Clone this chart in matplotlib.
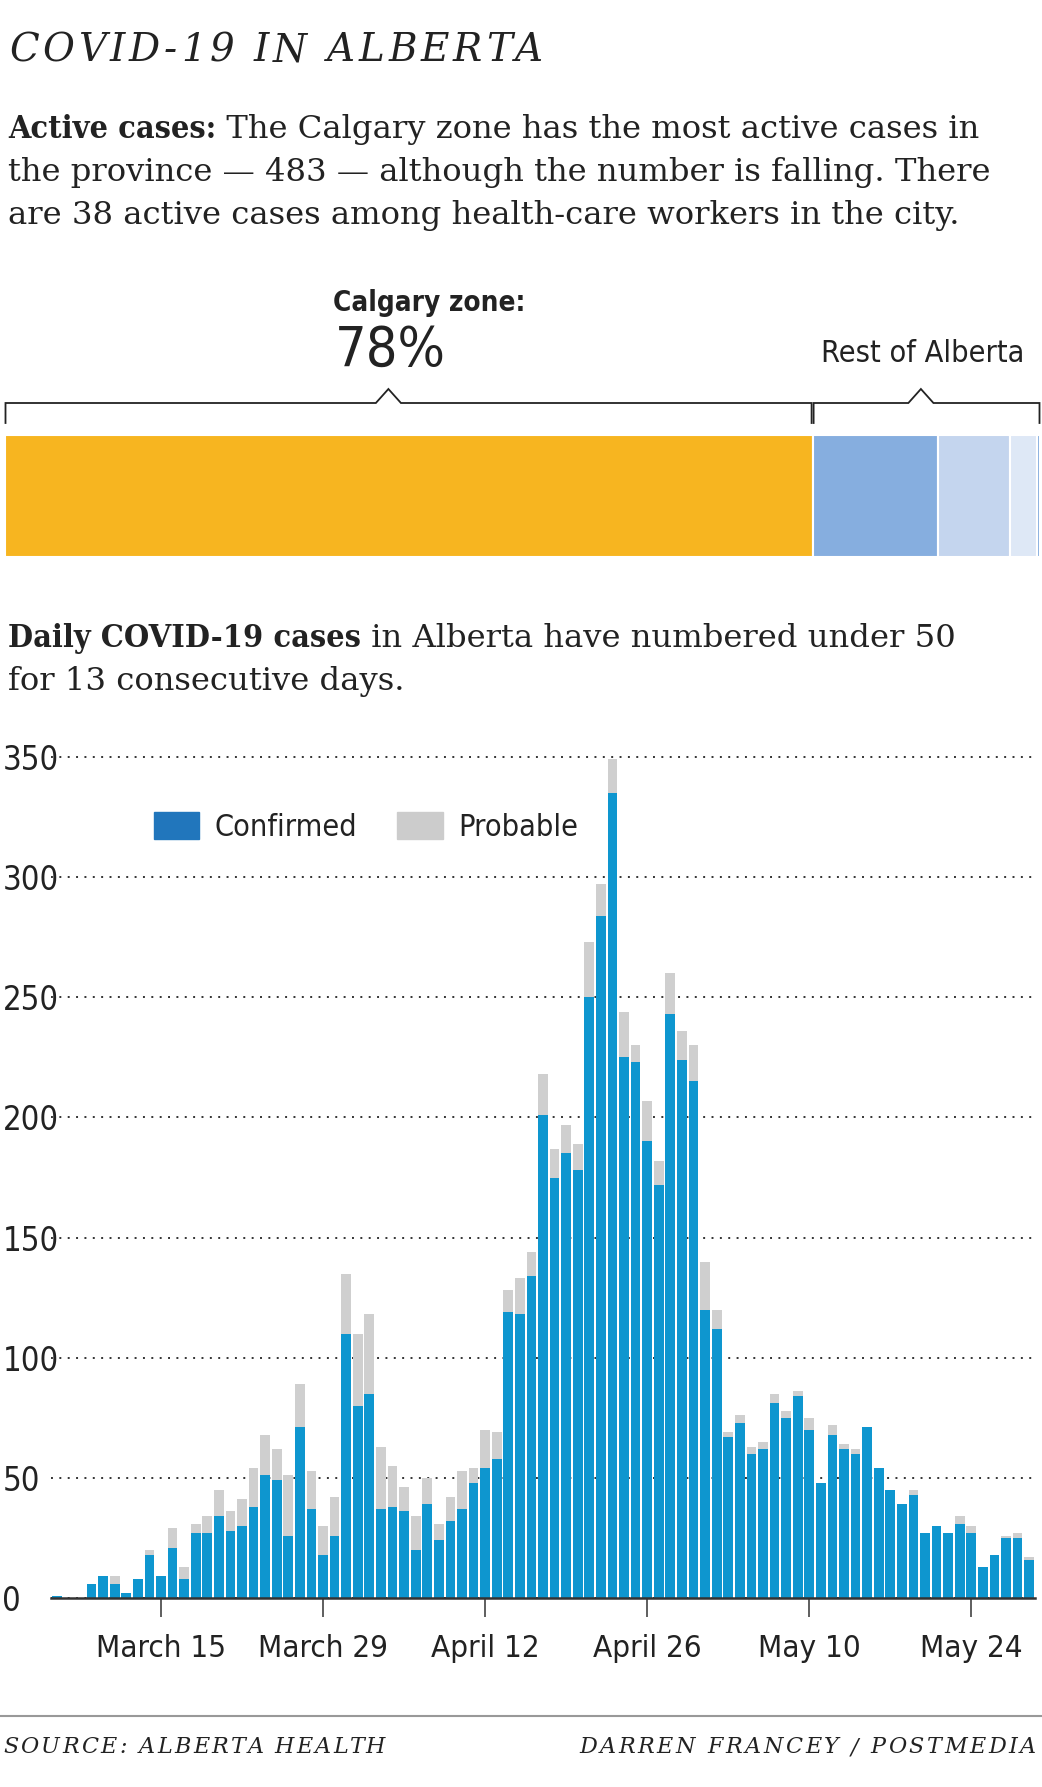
import matplotlib.pyplot as plt
import numpy as np
import pandas as pd
from matplotlib.patches import Patch
from matplotlib.font_manager import FontProperties

# active cases by zone (Calgary first, then the rest of Alberta)
zone_cases = [483, 75, 43, 16, 2]
zone_colors = ['#F7B520', '#86AEDF', '#C4D5EE', '#DEE8F6', '#86AEDF']

# daily cases, March 6 to May 29
dates = pd.date_range('2020-03-06', '2020-05-29')
confirmed = [1, 0, 0, 6, 9, 6, 2, 8, 18, 9,
             21, 8, 27, 27, 34, 28, 30, 38, 51, 49,
             26, 71, 37, 18, 26, 110, 80, 85, 37, 38,
             36, 20, 39, 24, 32, 37, 48, 54, 58, 119,
             118, 134, 201, 175, 185, 178, 250, 284, 335, 225,
             223, 190, 172, 243, 224, 215, 120, 112, 67, 73,
             60, 62, 81, 75, 84, 70, 48, 68, 62, 60,
             71, 54, 45, 39, 43, 27, 30, 27, 31, 27,
             13, 18, 25, 25, 16]
probable = [0, 0, 0, 0, 0, 3, 0, 0, 2, 0,
            8, 5, 4, 7, 11, 8, 11, 16, 17, 13,
            25, 18, 16, 12, 16, 25, 30, 33, 26, 17,
            10, 14, 11, 7, 10, 16, 6, 16, 11, 9,
            15, 10, 17, 12, 12, 11, 23, 13, 14, 19,
            7, 17, 10, 17, 12, 15, 20, 8, 2, 3,
            3, 3, 4, 3, 2, 5, 0, 4, 2, 2,
            0, 0, 0, 0, 2, 0, 0, 0, 3, 3,
            0, 0, 1, 2, 1]
tick_dates = ['2020-03-15', '2020-03-29', '2020-04-12', '2020-04-26', '2020-05-10', '2020-05-24']
tick_labels = ['March 15', 'March 29', 'April 12', 'April 26', 'May 10', 'May 24']
y_ticks = [0, 50, 100, 150, 200, 250, 300, 350]

W, H = 1042, 1787
INK = '#222222'
SANS = ['DejaVu Sans']
SERIF = ['DejaVu Serif']
NARROW = dict(family=SANS, fontstretch='condensed')


def fx(px):
    return px / W


def fy(py):
    return 1 - py / H


fig = plt.figure(figsize=(W / 100, H / 100), dpi=100)
renderer = fig.canvas.get_renderer()


def text_w(s, **kw):
    t = fig.text(0, 0, s, **kw)
    w = t.get_window_extent(renderer).width
    t.remove()
    return w


def tracked(x, y, s, width, align='left', **kw):
    # letter-spaced caps: spread the string over the given pixel width
    track = (width - text_w(s, **kw)) / (len(s) - 1)
    if align == 'right':
        x = x - width
    base = text_w('x', **kw)
    for i, ch in enumerate(s):
        off = text_w(s[:i] + 'x', **kw) - base if i else 0
        fig.text(fx(x + off + i * track), fy(y), ch, va='baseline', color=INK, **kw)


def runin(x, y, bold, rest, size):
    t = fig.text(fx(x), fy(y), bold, family=SERIF, fontweight='bold', fontstretch='condensed',
                 fontsize=size, color=INK, va='baseline')
    w = t.get_window_extent(renderer).width
    fig.text(fx(x + w), fy(y), rest, family=SERIF, fontsize=size, color=INK, va='baseline')


def body(x, y, s, size):
    fig.text(fx(x), fy(y), s, family=SERIF, fontsize=size, color=INK, va='baseline')


# header
tracked(9, 61, 'COVID-19 IN ALBERTA', 532, family=SERIF, style='italic', fontsize=28)
BODY = 23.2
runin(8, 138, 'Active cases:', ' The Calgary zone has the most active cases in', BODY)
body(8, 181, 'the province \u2014 483 \u2014 although the number is falling. There', BODY)
body(8, 224, 'are 38 active cases among health-care workers in the city.', BODY)

# stacked zone bar
axz = fig.add_axes([fx(5), fy(557), fx(1035), 122 / H])
left = 0
for val, col in zip(zone_cases, zone_colors):
    axz.barh(0, val, left=left, height=1, color=col, edgecolor='white', linewidth=1.5)
    left += val
total = sum(zone_cases)
axz.set_xlim(0, total)
axz.set_ylim(-0.5, 0.5)
axz.axis('off')

# brackets above the bar
tr = axz.get_xaxis_transform()
y_line = 1 + 32 / 122
y_end = 1 + 12 / 122
y_peak = 1 + 46 / 122
half = 7.5
for a, b in [(0.3, zone_cases[0] - 0.6), (zone_cases[0] + 0.6, total - 0.3)]:
    mid = a + (b - a) * 0.475
    axz.plot([a, a, mid - half, mid, mid + half, b, b],
             [y_end, y_line, y_line, y_peak, y_line, y_line, y_end],
             transform=tr, color=INK, lw=1.3, clip_on=False, solid_joinstyle='miter')

fig.text(fx(333), fy(311), 'Calgary zone:', fontweight='bold', fontsize=20,
         color=INK, va='baseline', **NARROW)
fig.text(fx(335), fy(366), '78%', fontsize=40, color=INK, va='baseline', **NARROW)
fig.text(fx(1024), fy(362), 'Rest of Alberta', fontsize=22, color=INK,
         va='baseline', ha='right', **NARROW)

# second intro
runin(8, 647, 'Daily COVID-19 cases', ' in Alberta have numbered under 50', BODY)
body(8, 690, 'for 13 consecutive days.', BODY)

# daily cases chart
ax = fig.add_axes([fx(51), fy(1598), fx(984), (1598 - 745) / H])
x = np.arange(len(dates))
ax.bar(x, confirmed, width=0.84, color='#0E96CF', zorder=2)
ax.bar(x, probable, width=0.84, bottom=confirmed, color='#CFCFCF', zorder=2)
ax.set_xlim(-0.5, len(dates) - 0.5)
ax.set_ylim(0, 355)

ax.set_yticks(y_ticks)
ax.set_yticklabels([str(v) for v in y_ticks], fontsize=23.5, color=INK, **NARROW)
for lab in ax.get_yticklabels():
    lab.set_horizontalalignment('left')
ax.tick_params(axis='y', length=0, pad=35)
ax.yaxis.grid(True, color='#333333', linestyle=(0, (1, 3.3)), linewidth=1.4, zorder=0)

pos = [dates.get_loc(pd.Timestamp(d)) for d in tick_dates]
ax.set_xticks(pos)
ax.set_xticklabels(tick_labels, fontsize=22.5, color=INK, **NARROW)
ax.tick_params(axis='x', length=14, width=1.1, color='#333333', pad=12)

for s in ['top', 'right', 'left']:
    ax.spines[s].set_visible(False)
ax.spines['bottom'].set_color('#333333')
ax.spines['bottom'].set_linewidth(1.8)
ax.spines['bottom'].set_zorder(3)
ax.set_axisbelow(True)

handles = [Patch(color='#2176BC', label='Confirmed'), Patch(color='#CCCCCC', label='Probable')]
leg = ax.legend(handles=handles, loc='upper left',
                bbox_to_anchor=((126 - 51) / 984, 1 - (784 - 745) / 853),
                frameon=False, ncol=2,
                prop=FontProperties(family=SANS, stretch='condensed', size=22),
                handlelength=1.5, handleheight=1.0, handletextpad=0.5, columnspacing=1.3)
for t in leg.get_texts():
    t.set_color(INK)

# footer
fig.add_artist(plt.Line2D([0, 1], [fy(1716), fy(1716)], color='#999999', lw=1.5))
tracked(3, 1753, 'SOURCE: ALBERTA HEALTH', 382, family=SERIF, style='italic', fontsize=16)
tracked(1036, 1753, 'DARREN FRANCEY / POSTMEDIA', 457, align='right', family=SERIF,
        style='italic', fontsize=16)

fig.savefig('out.png', dpi=100, facecolor='white')
